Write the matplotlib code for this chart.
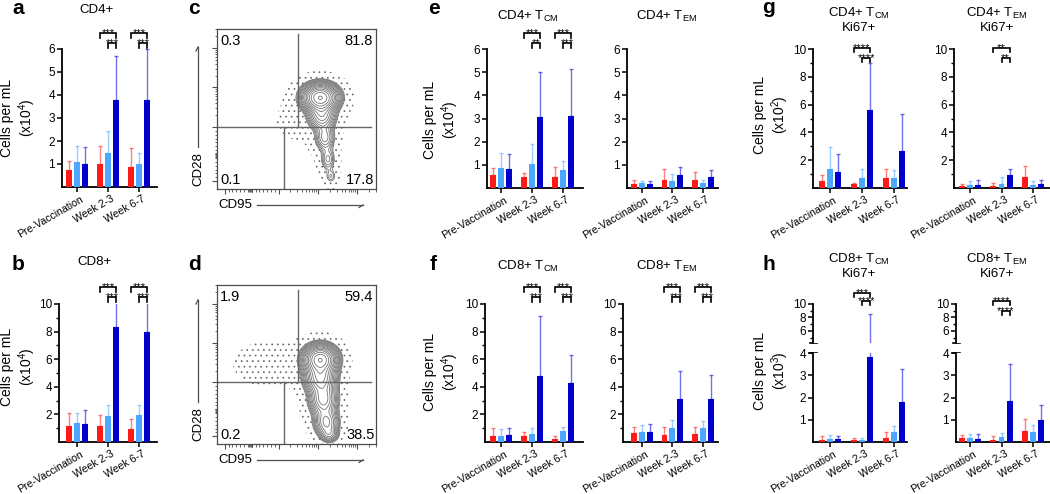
import numpy as np
import matplotlib
matplotlib.use("Agg")
import matplotlib.pyplot as plt
from matplotlib.transforms import blended_transform_factory, ScaledTranslation

plt.rcParams["font.family"] = ["Liberation Sans", "DejaVu Sans"]
plt.rcParams["mathtext.fontset"] = "custom"
plt.rcParams["mathtext.rm"] = "Liberation Sans"
plt.rcParams["mathtext.it"] = "Liberation Sans:italic"
plt.rcParams["mathtext.bf"] = "Liberation Sans:bold"
plt.rcParams["hatch.color"] = "0.4"
plt.rcParams["hatch.linewidth"] = 0.5

W, H = 1050, 494

groups = ["Pre-Vaccination", "Week 2-3", "Week 6-7"]
colors = ["#ff1a1a", "#4da6ff", "#0000cc"]

# rows: red, light blue, dark blue ; columns: groups
a_mean = [[0.75, 1.0, 0.87], [1.1, 1.47, 1.02], [1.0, 3.8, 3.78]]
a_sd = [[0.38, 0.78, 0.83], [0.68, 0.98, 0.46], [0.73, 1.88, 2.22]]
b_mean = [[1.13, 1.13, 0.97], [1.38, 1.86, 1.98], [1.33, 8.36, 7.97]]
b_sd = [[0.95, 0.8, 0.7], [0.72, 0.84, 0.7], [0.97, 2.5, 2.6]]
e1_mean = [[0.55, 0.48, 0.48], [0.87, 1.05, 0.77], [0.8, 3.05, 3.1]]
e1_sd = [[0.32, 0.18, 0.43], [0.62, 0.83, 0.39], [0.65, 1.95, 2.03]]
e2_mean = [[0.17, 0.36, 0.33], [0.2, 0.29, 0.2], [0.19, 0.55, 0.48]]
e2_sd = [[0.18, 0.44, 0.36], [0.12, 0.3, 0.13], [0.1, 0.36, 0.29]]
f1_mean = [[0.46, 0.46, 0.22], [0.46, 0.6, 0.8], [0.53, 4.76, 4.3]]
f1_sd = [[0.55, 0.29, 0.19], [0.48, 0.39, 0.29], [0.46, 4.34, 1.98]]
f2_mean = [[0.63, 0.53, 0.6], [0.75, 1.04, 1.04], [0.72, 3.12, 3.09]]
f2_sd = [[0.43, 0.53, 0.46], [0.51, 0.58, 0.46], [0.58, 2.02, 1.79]]
g1_mean = [[0.5, 0.27, 0.72], [1.4, 0.72, 0.75], [1.16, 5.6, 2.67]]
g1_sd = [[0.44, 0.1, 0.68], [1.56, 0.68, 0.53], [1.27, 3.39, 2.63]]
g2_mean = [[0.14, 0.14, 0.77], [0.19, 0.26, 0.19], [0.19, 0.92, 0.26]]
g2_sd = [[0.18, 0.22, 0.84], [0.34, 0.54, 0.34], [0.36, 0.48, 0.32]]
h1_mean = [[0.1, 0.1, 0.2], [0.15, 0.11, 0.43], [0.15, 3.8, 1.8]]
h1_sd = [[0.15, 0.08, 0.25], [0.18, 0.05, 0.27], [0.13, 4.7, 1.47]]
h2_mean = [[0.17, 0.1, 0.49], [0.17, 0.22, 0.43], [0.15, 1.86, 1.0]]
h2_sd = [[0.16, 0.18, 0.56], [0.19, 0.17, 0.33], [0.22, 1.64, 0.68]]

# (group, red vs dark blue, light blue vs dark blue)
a_sig = [(1, "***", "***"), (2, "***", "***")]
b_sig = [(1, "***", "***"), (2, "***", "***")]
e1_sig = [(1, "***", "**"), (2, "***", "***")]
f1_sig = [(1, "***", "***"), (2, "***", "***")]
f2_sig = [(1, "***", "***"), (2, "***", "***")]
g1_sig = [(1, "****", "****")]
g2_sig = [(1, "**", "**")]
h1_sig = [(1, "***", "****")]
h2_sig = [(1, "****", "****")]

# flow plots: quadrant percentages (UL, UR, LL, LR) and density blobs (x, y, sx, sy, weight)
c_quad = [0.3, 81.8, 0.1, 17.8]
d_quad = [1.9, 59.4, 0.2, 38.5]
c_blobs = [(0.67, 0.59, 0.062, 0.048, 1.0), (0.68, 0.47, 0.05, 0.05, 0.3),
           (0.70, 0.33, 0.038, 0.05, 0.16), (0.72, 0.19, 0.03, 0.045, 0.1),
           (0.74, 0.08, 0.025, 0.03, 0.06), (0.55, 0.45, 0.14, 0.12, 0.003)]
d_blobs = [(0.67, 0.55, 0.058, 0.05, 1.0), (0.67, 0.43, 0.055, 0.055, 0.55),
           (0.69, 0.29, 0.05, 0.06, 0.4), (0.71, 0.14, 0.045, 0.05, 0.3),
           (0.73, 0.06, 0.035, 0.03, 0.15), (0.38, 0.52, 0.16, 0.09, 0.007)]

fig = plt.figure(figsize=(W / 100, H / 100), dpi=100)
offs = [-0.26, 0.0, 0.26]


def new_axes(x0, x1, top, bot):
    return fig.add_axes([x0 / W, 1 - bot / H, (x1 - x0) / W, (bot - top) / H])


def draw_bars(ax, means, sds):
    x = np.arange(3)
    for i in range(3):
        xi = x + offs[i]
        ax.bar(xi, means[i], width=0.19, color=colors[i], lw=0, zorder=3)
        ax.errorbar(xi, means[i], yerr=[np.zeros(3), sds[i]], fmt="none",
                    ecolor=colors[i], alpha=0.55, elinewidth=1.0,
                    capsize=1.6, capthick=1.0, zorder=2)


def style(ax, x0, x1, g0, sp, ylim, yticks, minor=None, xlab=True):
    ax.set_xlim((x0 - g0) / sp, (x1 - g0) / sp)
    ax.set_ylim(*ylim)
    for s in ["top", "right"]:
        ax.spines[s].set_visible(False)
    for s in ["left", "bottom"]:
        ax.spines[s].set_linewidth(1.3)
    ax.set_yticks(yticks)
    if minor:
        ax.set_yticks(minor, minor=True)
    ax.tick_params(axis="y", length=3.5, width=1.1, labelsize=8.5, pad=1.5)
    ax.tick_params(axis="y", which="minor", length=2, width=1.0)
    if xlab:
        ax.set_xticks(np.arange(3), groups, rotation=30, ha="right",
                      rotation_mode="anchor", fontsize=7.6)
        ax.tick_params(axis="x", length=3.5, width=1.1, pad=1.5)
        shift = ScaledTranslation(3 / 100, 0, fig.dpi_scale_trans)
        for lab in ax.get_xticklabels():
            lab.set_transform(lab.get_transform() + shift)
    else:
        ax.set_xticks([])
        ax.spines["bottom"].set_visible(False)


def brackets(ax, sig, y_up, y_lo, tick=5):
    tr = blended_transform_factory(ax.transData, fig.transFigure)
    for g, s_up, s_lo in sig:
        for xa, xb, yp, s in [(g + offs[0], g + offs[2], y_up, s_up),
                              (g + offs[1], g + offs[2], y_lo, s_lo)]:
            yy = 1 - yp / H
            yt = 1 - (yp + tick) / H
            ax.plot([xa, xa, xb, xb], [yt, yy, yy, yt], color="k", lw=1.2,
                    transform=tr, clip_on=False, solid_joinstyle="miter")
            ax.text((xa + xb) / 2, 1 - (yp + 3) / H, s, transform=tr,
                    ha="center", va="baseline", fontsize=8)


def bar_panel(x0, x1, g0, sp, top, bot, means, sds, ylim, yticks, minor, sig, y_up, y_lo, tick=5):
    ax = new_axes(x0, x1, top, bot)
    draw_bars(ax, means, sds)
    style(ax, x0, x1, g0, sp, ylim, yticks, minor)
    brackets(ax, sig, y_up, y_lo, tick)
    return ax


six = [1, 2, 3, 4, 5, 6]
ten = [2, 4, 6, 8, 10]
odd = [1, 3, 5, 7, 9]

bar_panel(62, 157, 77, 31, 49, 187, a_mean, a_sd, (0, 6), six, None, a_sig, 33, 43)
bar_panel(59, 157, 77, 31, 304, 442, b_mean, b_sd, (0, 10), ten, odd, b_sig, 287, 297)
bar_panel(487, 583, 501, 31, 49, 188, e1_mean, e1_sd, (0, 6), six, None, e1_sig, 33, 43)
bar_panel(627, 718, 641.7, 30.7, 49, 188, e2_mean, e2_sd, (0, 6), six, None, [], 0, 0)
bar_panel(485, 583, 501, 31, 304, 442, f1_mean, f1_sd, (0, 10), ten, odd, f1_sig, 287, 297)
bar_panel(623, 718, 641.7, 30.7, 304, 442, f2_mean, f2_sd, (0, 10), ten, odd, f2_sig, 287, 297)
bar_panel(813, 907, 830, 32, 49, 188, g1_mean, g1_sd, (0, 10), ten, odd, g1_sig, 48, 58, 4)
bar_panel(954, 1050, 970, 31.5, 49, 188, g2_mean, g2_sd, (0, 10), ten, odd, g2_sig, 48, 58, 4)

overlay = fig.add_axes([0, 0, 1, 1])
overlay.set_xlim(0, W)
overlay.set_ylim(H, 0)
overlay.axis("off")

# h: broken y axes
for (x0, x1, g0, sp, means, sds, sig, yu, yl) in [
        (813, 907, 830, 32, h1_mean, h1_sd, h1_sig, 293, 301),
        (956, 1050, 970, 31.5, h2_mean, h2_sd, h2_sig, 301, 311)]:
    lo = new_axes(x0, x1, 353, 442)
    draw_bars(lo, means, sds)
    style(lo, x0, x1, g0, sp, (0, 4), [1, 2, 3, 4])
    up = new_axes(x0, x1, 304, 343)
    draw_bars(up, means, sds)
    style(up, x0, x1, g0, sp, (4.2, 10), [6, 8, 10], [5, 7, 9], xlab=False)
    brackets(up, sig, yu, yl, 4)
    overlay.plot([x0 - 3.5, x0 + 3.5], [343, 343], color="k", lw=1.2)
    overlay.plot([x0 - 3.5, x0 + 3.5], [353, 353], color="k", lw=1.2)


def flow_ticks():
    major = [0.05, 0.40, 0.655, 0.91]
    minor = list(np.arange(0.075, 0.40, 0.025)) + [0.205, 0.212, 0.218, 0.224, 0.23]
    for a, b in [(0.40, 0.655), (0.655, 0.91)]:
        minor += [a + (b - a) * np.log10(k) for k in range(2, 10)]
    minor += [0.91 + 0.255 * np.log10(k) for k in range(2, 4)]
    return major, minor


def flow_panel(top, bot, blobs, quad):
    ax = new_axes(217, 376, top, bot)
    g = np.linspace(0, 1, 320)
    X, Y = np.meshgrid(g, g)
    Z = np.zeros_like(X)
    for cx, cy, sx, sy, w in blobs:
        Z += w * np.exp(-((X - cx) ** 2 / (2 * sx ** 2) + (Y - cy) ** 2 / (2 * sy ** 2)))
    zmax = Z.max()
    levels = zmax * np.logspace(-1.4, -0.01, 16)
    ax.contourf(X, Y, Z, levels=[zmax * 0.0015, levels[0]], colors="none", hatches=["..."])
    ax.contour(X, Y, Z, levels=levels, colors="0.45", linewidths=0.6)
    ax.plot([0.526, 0.526], [0.40, 1], color="0.4", lw=1.0)
    ax.plot([0.434, 0.434], [0, 0.40], color="0.4", lw=1.0)
    ax.plot([0, 1], [0.40, 0.40], color="0.4", lw=1.0)
    ax.set_xlim(0, 1)
    ax.set_ylim(0, 1)
    for s in ax.spines.values():
        s.set_linewidth(0.9)
        s.set_color("0.3")
    major, minor = flow_ticks()
    ax.set_xticks(major, [])
    ax.set_yticks(major, [])
    ax.set_xticks(minor, minor=True)
    ax.set_yticks(minor, minor=True)
    ax.tick_params(which="major", length=3.5, width=0.8, color="0.3")
    ax.tick_params(which="minor", length=1.8, width=0.6, color="0.3")
    kw = dict(transform=ax.transAxes, fontsize=10.5, va="center")
    ax.text(0.02, 0.925, f"{quad[0]}", ha="left", **kw)
    ax.text(0.98, 0.925, f"{quad[1]}", ha="right", **kw)
    ax.text(0.02, 0.055, f"{quad[2]}", ha="left", **kw)
    ax.text(0.99, 0.055, f"{quad[3]}", ha="right", **kw)
    return ax


flow_panel(29, 189, c_blobs, c_quad)
flow_panel(285, 444, d_blobs, d_quad)

# axis arrows for flow plots
for ybase, ytext_y, ytop, xlab_y in [(147, 169, 47, 205), (402, 424, 300, 460)]:
    overlay.text(198, ytext_y, "CD28", rotation=90, ha="center", va="center", fontsize=9.5)
    overlay.plot([198, 198], [ybase, ytop], color="0.3", lw=0.9)
    overlay.plot([198, 196], [ytop, ytop + 4], color="0.3", lw=0.9)
    overlay.text(218, xlab_y, "CD95", ha="left", va="center", fontsize=9.5)
    overlay.plot([257, 363], [xlab_y, xlab_y], color="0.3", lw=0.9)
    overlay.plot([363, 359], [xlab_y, xlab_y + 2.5], color="0.3", lw=0.9)

# panel letters
for s, x, y in [("a", 12, 14), ("b", 12, 270), ("c", 188, 14), ("d", 188, 270),
                ("e", 428, 14), ("f", 430, 270), ("g", 762, 13), ("h", 762, 270)]:
    overlay.text(x, y, s, fontsize=15, fontweight="bold", ha="left", va="baseline")

# titles
titles = [("CD4+", 97, 10), ("CD8+", 95, 262),
          (r"CD4+ T$_{\mathrm{CM}}$", 528, 16), (r"CD4+ T$_{\mathrm{EM}}$", 667, 16),
          (r"CD8+ T$_{\mathrm{CM}}$", 528, 266), (r"CD8+ T$_{\mathrm{EM}}$", 667, 266),
          ("CD4+ T$_{\\mathrm{CM}}$\nKi67+", 859, 20), ("CD4+ T$_{\\mathrm{EM}}$\nKi67+", 997, 20),
          ("CD8+ T$_{\\mathrm{CM}}$\nKi67+", 859, 266), ("CD8+ T$_{\\mathrm{EM}}$\nKi67+", 997, 266)]
for s, x, y in titles:
    overlay.text(x, y, s, fontsize=9.5, ha="center", va="center", multialignment="center")

# y labels
for exp, x, y in [(4, 19, 118), (4, 19, 367), (4, 442, 120), (4, 442, 372),
                  (2, 772, 115), (3, 772, 371)]:
    overlay.text(x, y, f"Cells per mL\n(x10$^{{{exp}}}$)", rotation=90, fontsize=10,
                 ha="center", va="center", multialignment="center", linespacing=1.1)

fig.savefig("out.png", dpi=100)
